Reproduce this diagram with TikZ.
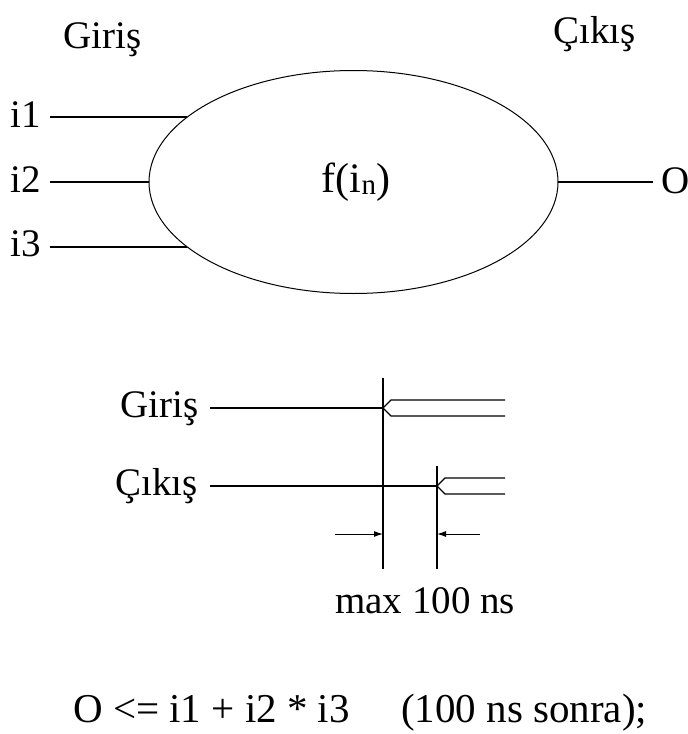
\documentclass[tikz,border=0pt]{standalone}
\usepackage{fontspec}
\setmainfont{Liberation Serif}
\usetikzlibrary{arrows.meta,shapes.geometric}
\begin{document}
\begin{tikzpicture}[x=1pt,y=-1pt,
  lbl/.style={inner sep=0pt, font=\fontsize{39}{44}\selectfont},
  big/.style={inner sep=0pt, font=\fontsize{41}{48}\selectfont},
  wire/.style={line width=1.3pt},
  dimarrow/.style={line width=1pt,-{Latex[length=9pt,width=6pt]}}]
\useasboundingbox (0,0) rectangle (688,734);
% top diagram
\node[lbl,anchor=base west] (gin) at (63,48) {Giriş};
\node[lbl,anchor=base west] (cik) at (553,43) {Çıkış};
\node[draw,ellipse,line width=1pt,minimum width=409pt,minimum height=223pt,inner sep=0pt,outer sep=0pt] (f) at (353.5,182) {};
\node[inner sep=0pt,anchor=base,font=\fontsize{42}{48}\selectfont] (fl) at (356,192) {f(i\raisebox{-2pt}{\fontsize{29}{29}\selectfont n})};
\node[lbl,anchor=base west] (i1) at (10,127) {i1};
\node[lbl,anchor=base west] (i2) at (10,192) {i2};
\node[lbl,anchor=base west] (i3) at (10,256) {i3};
\node[lbl,anchor=base west] (o) at (661,193) {O};
\coordinate (a1) at (50,117);
\coordinate (a2) at (50,182);
\coordinate (a3) at (50,247);
\coordinate (e1) at (186.7,117);
\coordinate (e3) at (186.7,247);
\coordinate (oe) at (653,182);
\draw[wire] (a1) -- (e1);
\draw[wire] (a2) -- (f.west);
\draw[wire] (a3) -- (e3);
\draw[wire] (f.east) -- (oe);
% timing diagram
\node[lbl,anchor=base west] (tg) at (120,417) {Giriş};
\node[lbl,anchor=base west] (tc) at (115,495) {Çıkış};
\coordinate (g0) at (210,408);
\coordinate (g1) at (383,408);
\coordinate (v1t) at (383,378);
\coordinate (v1b) at (383,569);
\coordinate (c0) at (210,486);
\coordinate (c1) at (437,486);
\coordinate (v2t) at (437,466);
\coordinate (v2b) at (437,569);
\coordinate (gu) at (505,400);
\coordinate (gd) at (505,416);
\coordinate (cu) at (505,478);
\coordinate (cd) at (505,494);
\draw[wire] (g0) -- (g1);
\draw[wire] (v1t) -- (v1b);
\draw[wire] (g1) -- ++(8,-8) -- (gu);
\draw[wire] (g1) -- ++(8,8) -- (gd);
\draw[wire] (c0) -- (c1);
\draw[wire] (v2t) -- (v2b);
\draw[wire] (c1) -- ++(8,-8) -- (cu);
\draw[wire] (c1) -- ++(8,8) -- (cd);
\coordinate (al) at (335,534);
\coordinate (ar) at (480,534);
\draw[dimarrow] (al) -- (al -| v1b);
\draw[dimarrow] (ar) -- (ar -| v2b);
\node[lbl,anchor=base west] (mx) at (335,613) {max 100 ns};
% equation
\node[big,anchor=base west] (eq) at (73,722) {O <= i1 + i2 * i3};
\node[big,anchor=base west] (eq2) at (401,722) {(100 ns sonra);};
\end{tikzpicture}
\end{document}
